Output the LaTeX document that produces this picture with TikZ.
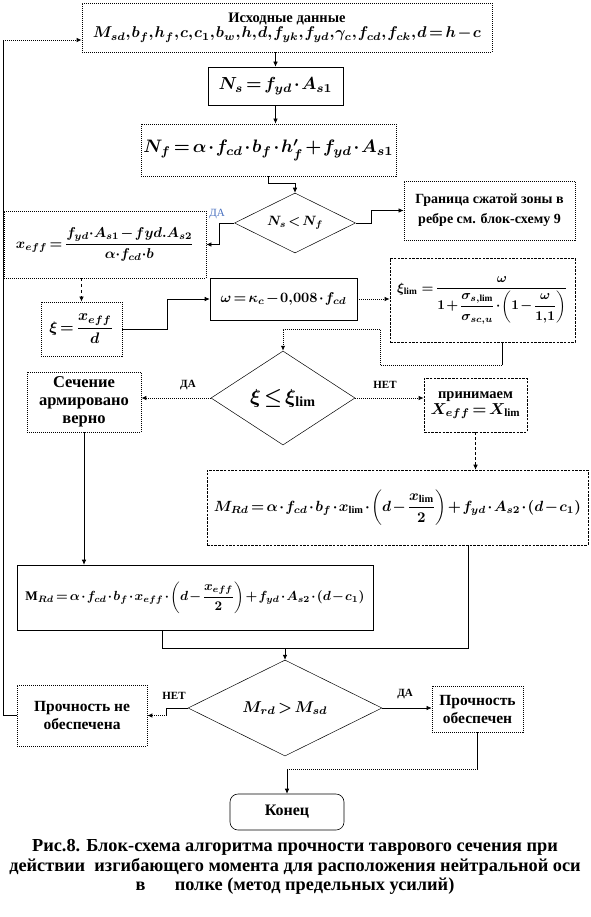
\documentclass[tikz,border=0pt]{standalone}
\usepackage{amsmath}
\usepackage{graphicx}
\usepackage{fontspec}
\setmainfont{Liberation Serif}
\usetikzlibrary{arrows.meta,shapes.geometric,calc}
\definecolor{dablue}{RGB}{70,110,190}
\newcommand{\fsz}[2]{\fontsize{#1}{#2}\selectfont}
\newcommand{\fitw}[2]{\resizebox{#1}{!}{#2}}
\newcommand{\tm}{\thinmuskip=1mu\medmuskip=1.5mu\thickmuskip=2.5mu}
\begin{document}
\begin{tikzpicture}[x=1pt,y=-1pt,
  every node/.style={font=\bfseries\boldmath},
  box/.style={draw,line width=0.6pt,inner sep=0pt,align=center},
  dotbox/.style={box,line width=0.8pt,dash pattern=on 1pt off 1pt},
  dashbox/.style={box,dash pattern=on 2.5pt off 1.2pt},
  dia/.style={draw,diamond,line width=0.5pt,inner sep=0pt,aspect=1.6},
  arr/.style={-{Latex[length=5pt,width=4.5pt]}},
  ln/.style={line width=0.6pt},
  dln/.style={line width=0.9pt,dash pattern=on 1pt off 1pt},
  lbl/.style={font=\bfseries\fsz{11}{11}}
]
\useasboundingbox (0,0) rectangle (590,917);

% boxes
\node[dotbox,minimum width=410pt,minimum height=49pt] (top) at (287,27.5)
  {\fsz{14.5}{16}Исходные данные\\[1pt]\fitw{388pt}{$\tm M_{sd},b_f,h_f,c,c_1,b_w,h,d,f_{yk},f_{yd},\gamma_c,f_{cd},f_{ck},d=h-c$}};
\node[box,minimum width=135pt,minimum height=38pt] (Ns) at (275.5,86)
  {\fitw{114pt}{$\tm N_s=f_{yd}\cdot A_{s1}$}};
\node[dotbox,minimum width=255pt,minimum height=52pt] (Nf) at (268.5,150)
  {\fitw{250pt}{$\tm N_f=\alpha\cdot f_{cd}\cdot b_f\cdot h'_f+f_{yd}\cdot A_{s1}$}};
\node[dia,minimum width=121pt,minimum height=60pt] (d1) at (295,223)
  {\fitw{56pt}{$\tm N_s<N_f$}};
\node[dotbox,minimum width=171pt,minimum height=59pt,font=\bfseries\fsz{14}{20}] (gran) at (489.5,210.5)
  {Граница сжатой зоны в\\ребре см. блок-схему 9};
\node[dotbox,minimum width=202pt,minimum height=67pt] (xeff) at (105,244.5)
  {\fitw{178pt}{$\tm x_{eff}=\dfrac{f_{yd}{\cdot}A_{s1}-fyd.A_{s2}}{\alpha{\cdot}f_{cd}{\cdot}b}$}};
\node[dotbox,minimum width=81pt,minimum height=54pt] (xi) at (81.5,329)
  {\fitw{64pt}{$\tm\xi=\dfrac{x_{eff}}{d}$}};
\node[box,minimum width=147pt,minimum height=42pt] (om) at (283.5,299)
  {\fitw{126pt}{$\tm\omega=\kappa_c-0{,}008\cdot f_{cd}$}};
\node[dashbox,minimum width=185pt,minimum height=84pt] (xil) at (482.5,300)
  {\fitw{171pt}{$\tm\xi_{\mathrm{lim}}\;=\dfrac{\omega}{1+\dfrac{\sigma_{s,\mathrm{lim}}}{\sigma_{sc,u}}\cdot\left(1-\dfrac{\omega}{1{,}1}\right)}$}};
\node[dia,minimum width=144pt,minimum height=94pt] (d2) at (283,398)
  {\fitw{66pt}{$\tm\xi\le\xi_{\mathrm{lim}}$}};
\node[dotbox,minimum width=114pt,minimum height=60pt,font=\bfseries\fsz{16.5}{18}] (sech) at (84,402)
  {Сечение\\армировано\\верно};
\node[dashbox,minimum width=103pt,minimum height=54pt] (prin) at (475.5,405)
  {\fsz{14.5}{16}принимаем\\[1pt]\fitw{90pt}{$\tm X_{eff}=X_{\mathrm{lim}}$}};
\node[dashbox,minimum width=381pt,minimum height=75pt] (mrd1) at (397.5,507.5)
  {\fitw{367pt}{$\tm M_{Rd}=\alpha\cdot f_{cd}\cdot b_f\cdot x_{\mathrm{lim}}\cdot\left(d-\dfrac{x_{\mathrm{lim}}}{2}\right)+f_{yd}\cdot A_{s2}\cdot(d-c_1)$}};
\node[box,minimum width=356pt,minimum height=65pt] (mrd2) at (195,597.5)
  {\fitw{339pt}{$\tm\mathrm{M}_{Rd}=\alpha\cdot f_{cd}\cdot b_f\cdot x_{eff}\cdot\left(d-\dfrac{x_{eff}}{2}\right)+f_{yd}\cdot A_{s2}\cdot(d-c_1)$}};
\node[dia,minimum width=194pt,minimum height=96pt] (d3) at (285,708)
  {\fitw{85pt}{$\tm M_{rd}>M_{sd}$}};
\node[dotbox,minimum width=130pt,minimum height=61pt,font=\bfseries\fsz{15.5}{18}] (pne) at (82,715.5)
  {Прочность не\\обеспечена};
\node[dotbox,minimum width=91pt,minimum height=46pt,font=\bfseries\fsz{15.5}{18}] (pob) at (477.5,709)
  {Прочность\\обеспечен};
\node[box,rounded corners=8pt,minimum width=114pt,minimum height=36pt,font=\bfseries\fsz{16}{16}] (kon) at (287,812)
  {Конец};
\node[font=\bfseries\fsz{18.3}{19.5},align=center,inner sep=0pt] (cap) at (295,867)
  {Рис.8. Блок-схема алгоритма прочности таврового сечения при\\
   действии\ \ изгибающего момента для расположения нейтральной оси\\
   в\hspace{1.6em}полке (метод предельных усилий)};

% labels
\node[lbl,text=dablue,font=\fsz{11}{11}] (da1) at (217,214) {ДА};
\node[lbl] (da2) at (188,385) {ДА};
\node[lbl] (net2) at (385,385) {НЕТ};
\node[lbl] (net3) at (174,696) {НЕТ};
\node[lbl] (da3) at (405,694) {ДА};

% coordinates
\coordinate (c1) at (502,365);
\coordinate (k1) at (380,365);
\coordinate (k2) at (380,329);
\coordinate (j1) at (162,648);
\coordinate (j2) at (468,648);
\coordinate (j3) at (285,648);
\coordinate (f1) at (3,715.5);
\coordinate (f2) at (3,40);
\coordinate (p1) at (477.5,769);

% connectors
\draw[ln,arr] (Ns.north |- top.south) -- (Ns.north);
\draw[ln,arr] (Ns.south) -- (Ns.south |- Nf.north);
\draw[ln,arr] (Nf.south) -- ++(0,7) -| (d1.north);
\draw[ln,arr] (d1.east) -- ++(16,0) |- (gran.west);
\draw[ln,arr] (d1.west) -- ++(-15,0) |- (xeff.east);
\draw[ln,arr,dashed] (xi.north |- xeff.south) -- (xi.north);
\draw[ln,arr] (xi.east) -- ++(45,0) |- (om.west);
\draw[dln,arr] (om.east) -- (om.east -| xil.west);
\draw[ln] (c1 |- xil.south) -- (c1);
\draw[dln,arr] (c1) -- (k1) -- (k2) -| (d2.north);
\draw[dln,arr] (d2.west) -- (d2.west -| sech.east);
\draw[dln,arr] (d2.east) -- (d2.east -| prin.west);
\draw[ln,arr,densely dashed] (prin.south) -- (prin.south |- mrd1.north);
\draw[ln,arr] (sech.south) -- (sech.south |- mrd2.north);
\draw[ln] (j1 |- mrd2.south) -- (j1) -- (j2) -- (j2 |- mrd1.south);
\draw[ln,arr] (j3) -- (d3.north);
\draw[ln] (d3.west) -- ++(-21,0) coordinate (n1) -- (n1 |- pne.east) coordinate (n2);
\draw[dln,arr] (n2) -- (pne.east);
\draw[ln] (pne.west) -- (f1) -- (f2);
\draw[dln,arr] (f2) -- ($(top.west)+(0,12.5)$);
\draw[ln,arr] (d3.east) -- (d3.east -| pob.west);
\draw[ln] (p1 |- pob.south) -- (p1);
\draw[dln] (p1) -- (p1 -| kon.north);
\draw[ln,arr] (p1 -| kon.north) -- (kon.north);
\end{tikzpicture}
\end{document}
